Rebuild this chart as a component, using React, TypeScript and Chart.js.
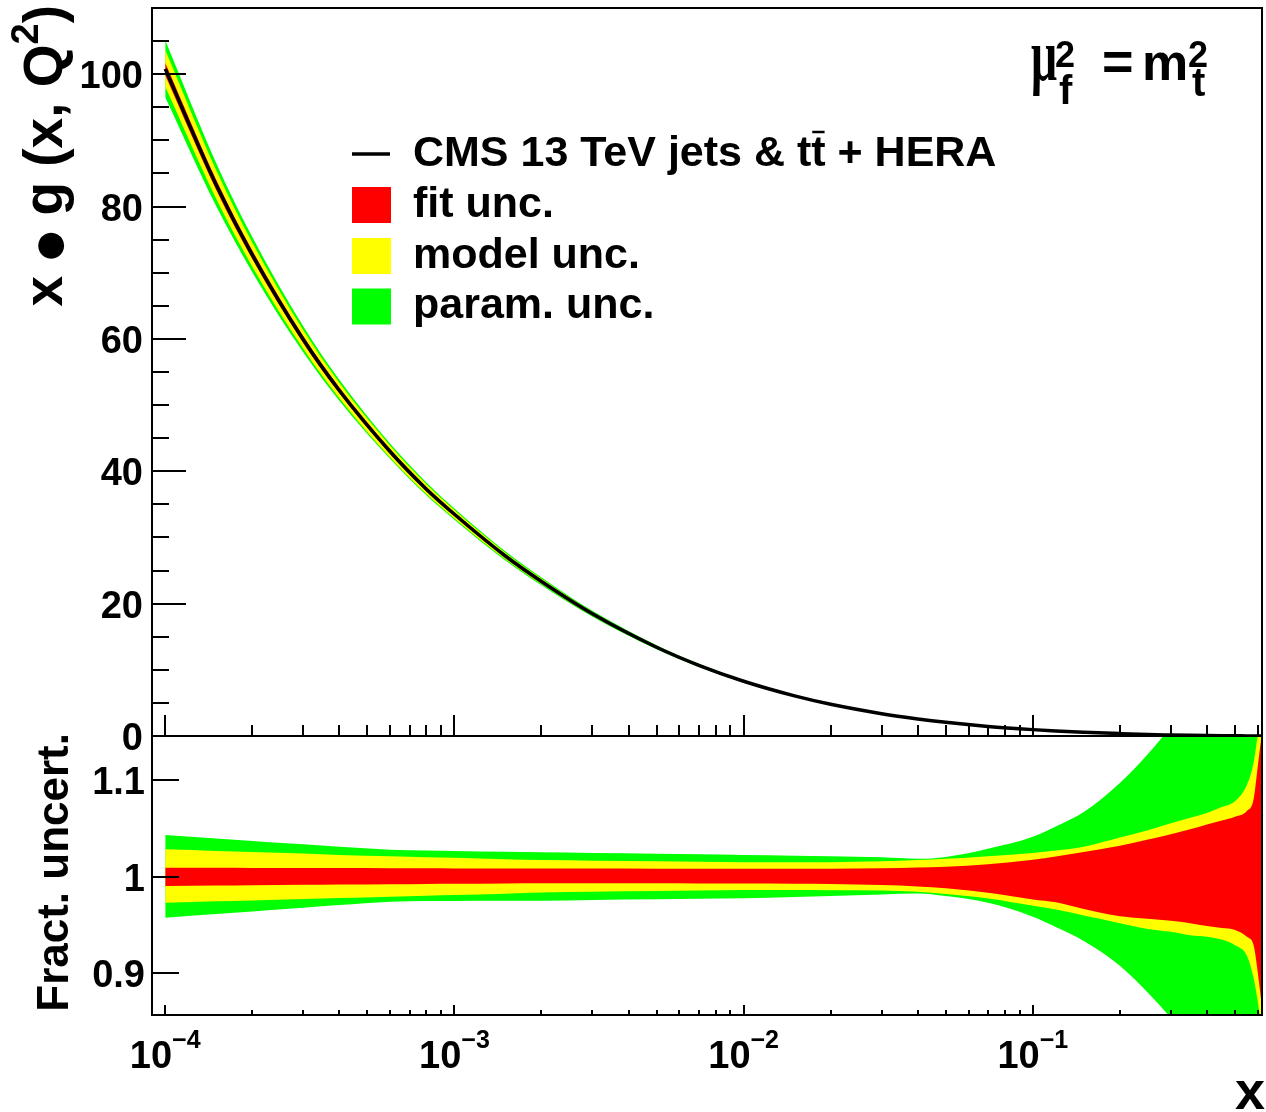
import React, { useEffect, useRef } from 'react';
import { Chart, registerables } from 'chart.js';

Chart.register(...registerables);

// ---------------- data ----------------
const xValues = [1e-4, 1.5e-4, 2e-4, 3e-4, 4e-4, 6e-4, 8e-4, 1e-3, 1.5e-3, 2e-3, 3e-3, 5e-3, 7e-3, 1e-2, 1.5e-2, 2e-2, 3e-2, 4e-2, 5e-2, 7e-2, 0.1, 0.12, 0.15, 0.2, 0.25, 0.3, 0.35, 0.4, 0.45, 0.5, 0.55, 0.58, 0.6, 0.62];
const centralValues = [100.8, 83.3, 72.7, 59.9, 52.2, 42.95, 37.3, 33.5, 27.2, 23.35, 18.47, 13.41, 10.68, 8.27, 6.06, 4.79, 3.37, 2.574, 2.063, 1.449, 0.963, 0.76, 0.57, 0.36, 0.22, 0.15, 0.1, 0.065, 0.04, 0.025, 0.015, 0.01, 0.008, 0.006];

// fractional uncertainty bands (upper / lower edge relative to central)
const fitUp = [1.0093, 1.0092, 1.0091, 1.009, 1.0089, 1.0088, 1.0087, 1.0086, 1.0085, 1.0085, 1.0084, 1.0083, 1.0082, 1.0082, 1.0082, 1.0083, 1.0088, 1.0096, 1.0103, 1.013, 1.0175, 1.021, 1.0255, 1.032, 1.0385, 1.044, 1.049, 1.054, 1.058, 1.062, 1.068, 1.08, 1.115, 1.15];
const fitDown = [0.9904, 0.9908, 0.9912, 0.9916, 0.9919, 0.9922, 0.9925, 0.9927, 0.993, 0.9932, 0.9932, 0.9932, 0.9931, 0.993, 0.9928, 0.9925, 0.9915, 0.99, 0.988, 0.9835, 0.9765, 0.9735, 0.9665, 0.959, 0.9565, 0.9545, 0.952, 0.949, 0.947, 0.945, 0.938, 0.929, 0.9, 0.865];
const modelUp = [1.0283, 1.0266, 1.0255, 1.024, 1.0225, 1.0212, 1.0202, 1.0195, 1.018, 1.0172, 1.0166, 1.016, 1.0155, 1.015, 1.0149, 1.015, 1.016, 1.0172, 1.0185, 1.0212, 1.0245, 1.027, 1.031, 1.0405, 1.048, 1.0552, 1.061, 1.066, 1.072, 1.078, 1.095, 1.118, 1.148, 1.18];
const modelDown = [0.9731, 0.9745, 0.9755, 0.977, 0.978, 0.9793, 0.9803, 0.981, 0.9825, 0.9838, 0.9845, 0.9852, 0.9857, 0.9862, 0.9862, 0.986, 0.9857, 0.9845, 0.982, 0.9775, 0.97, 0.966, 0.96, 0.952, 0.946, 0.943, 0.9395, 0.938, 0.935, 0.929, 0.918, 0.895, 0.87, 0.84];
const paramUp = [1.043, 1.0395, 1.037, 1.0335, 1.031, 1.028, 1.0272, 1.0266, 1.0258, 1.0252, 1.0245, 1.0238, 1.0232, 1.0225, 1.0218, 1.0212, 1.02, 1.0185, 1.0205, 1.029, 1.0413, 1.052, 1.067, 1.097, 1.127, 1.155, 1.18, 1.205, 1.23, 1.255, 1.28, 1.295, 1.305, 1.315];
const paramDown = [0.9576, 0.9614, 0.9641, 0.9679, 0.9707, 0.9742, 0.9748, 0.9749, 0.9751, 0.9752, 0.976, 0.9767, 0.9772, 0.9777, 0.979, 0.98, 0.9816, 0.9826, 0.98, 0.973, 0.9587, 0.948, 0.9336, 0.908, 0.88, 0.854, 0.83, 0.805, 0.78, 0.755, 0.73, 0.715, 0.705, 0.695];

const upperYTicks = [0, 20, 40, 60, 80, 100];
const lowerYTicks = [0.9, 1, 1.1];
const lowerYTickLabels = ['0.9', '1', '1.1'];
const xDecades = [1e-4, 1e-3, 1e-2, 1e-1];
const xDecadeExponents = ['\u22124', '\u22123', '\u22122', '\u22121'];
const legendLabels = ['fit unc.', 'model unc.', 'param. unc.'];

const X_MIN = 9e-5;
const X_MAX = 0.62;
const RED = '#ff0000';
const YELLOW = '#ffff00';
const GREEN = '#00ff00';

// ---------------- text helpers ----------------
const SANS = '"Liberation Sans", Arial, Helvetica, sans-serif';
const SERIF = '"Liberation Serif", "Times New Roman", serif';
const fnt = (size: number, bold = true, fam = SANS) => `${bold ? 'bold ' : ''}${size}px ${fam}`;

type Seg = { t: string; size: number; dy?: number; bold?: boolean; fam?: string };

function segsWidth(ctx: CanvasRenderingContext2D, segs: Seg[]) {
  let w = 0;
  for (const s of segs) {
    ctx.font = fnt(s.size, s.bold !== false, s.fam);
    w += ctx.measureText(s.t).width;
  }
  return w;
}

function drawSegs(ctx: CanvasRenderingContext2D, segs: Seg[], x: number, y: number, align: 'left' | 'center' | 'right') {
  const w = segsWidth(ctx, segs);
  let cx = align === 'left' ? x : align === 'center' ? x - w / 2 : x - w;
  ctx.textAlign = 'left';
  ctx.textBaseline = 'alphabetic';
  const pos: number[] = [];
  for (const s of segs) {
    ctx.font = fnt(s.size, s.bold !== false, s.fam);
    pos.push(cx);
    ctx.fillText(s.t, cx, y + (s.dy || 0));
    cx += ctx.measureText(s.t).width;
  }
  return pos;
}

const pts = (vals: number[]) => xValues.map((x, i) => ({ x, y: vals[i] }));
const scaled = (rel: number[]) => xValues.map((x, i) => ({ x, y: centralValues[i] * rel[i] }));

function band(data: { x: number; y: number }[], color: string | null) {
  return {
    data,
    borderColor: 'rgba(0,0,0,0)',
    borderWidth: 0,
    backgroundColor: color || 'rgba(0,0,0,0)',
    fill: color ? '+1' : false,
    pointRadius: 0,
    cubicInterpolationMode: 'monotone' as const,
  };
}

// ---------------- plugins ----------------
const upperPlugin = {
  id: 'upperDecor',
  afterDraw(chart: any) {
    const { ctx, chartArea: a, scales } = chart;
    const xs = scales.x;
    const ys = scales.y;
    ctx.save();
    ctx.strokeStyle = '#000';
    ctx.fillStyle = '#000';
    ctx.lineWidth = 2;
    ctx.strokeRect(a.left, a.top, a.right - a.left, a.bottom - a.top);

    // y ticks
    ctx.beginPath();
    for (let v = 0; v <= 110; v += 5) {
      const py = Math.round(ys.getPixelForValue(v));
      const len = v % 20 === 0 ? 34 : 17;
      ctx.moveTo(a.left, py);
      ctx.lineTo(a.left + len, py);
    }
    // x ticks at bottom
    for (const d of xDecades) {
      const px = Math.round(xs.getPixelForValue(d));
      ctx.moveTo(px, a.bottom);
      ctx.lineTo(px, a.bottom - 21);
    }
    for (let e = -5; e <= -1; e++) {
      for (let k = 2; k <= 9; k++) {
        const v = k * Math.pow(10, e);
        if (v <= X_MIN * 1.01 || v >= X_MAX) continue;
        const px = Math.round(xs.getPixelForValue(v));
        ctx.moveTo(px, a.bottom);
        ctx.lineTo(px, a.bottom - 11);
      }
    }
    ctx.stroke();

    // y labels
    ctx.font = fnt(38);
    ctx.textAlign = 'right';
    ctx.textBaseline = 'alphabetic';
    for (const v of upperYTicks) {
      const py = ys.getPixelForValue(v);
      ctx.fillText(String(v), 143, py + 14);
    }

    // y title (rotated)
    ctx.save();
    ctx.translate(62, 5);
    ctx.rotate(-Math.PI / 2);
    drawSegs(
      ctx,
      [
        { t: 'x ', size: 55 },
        { t: '\u25CF', size: 34, fam: '"DejaVu Sans", sans-serif', dy: -2 },
        { t: ' g (x, Q', size: 55 },
        { t: '2', size: 38, dy: -24 },
        { t: ')', size: 55 },
      ],
      0,
      0,
      'right'
    );
    ctx.restore();

    // legend
    ctx.lineWidth = 3.5;
    ctx.beginPath();
    ctx.moveTo(352, 154);
    ctx.lineTo(390, 154);
    ctx.stroke();
    const boxColors = [RED, YELLOW, GREEN];
    const boxTops = [187, 238, 288.5];
    boxColors.forEach((c, i) => {
      ctx.fillStyle = c;
      ctx.fillRect(352, boxTops[i], 39, 36);
    });
    ctx.fillStyle = '#000';
    const pos = drawSegs(
      ctx,
      [
        { t: 'CMS 13 TeV jets & t', size: 43 },
        { t: 't', size: 43 },
        { t: ' + HERA', size: 43 },
      ],
      413,
      166,
      'left'
    );
    ctx.font = fnt(43);
    const tw = ctx.measureText('t').width;
    ctx.lineWidth = 2.5;
    ctx.beginPath();
    ctx.moveTo(pos[1] + 1, 132);
    ctx.lineTo(pos[1] + tw - 1, 132);
    ctx.stroke();
    legendLabels.forEach((lbl, i) => {
      ctx.font = fnt(43);
      ctx.textAlign = 'left';
      ctx.fillText(lbl, 413, 217 + i * 50.5);
    });

    // mu_f^2 = m_t^2
    ctx.save();
    ctx.translate(1031, 80);
    ctx.scale(0.62, 1);
    ctx.font = fnt(74, true, SERIF);
    ctx.textAlign = 'left';
    ctx.fillText('\u03BC', 0, 0);
    ctx.restore();
    ctx.textAlign = 'left';
    ctx.font = fnt(36);
    ctx.fillText('2', 1055, 67);
    ctx.font = fnt(40);
    ctx.fillText('f', 1059, 104);
    ctx.font = fnt(54);
    ctx.fillText('=', 1102, 80);
    ctx.font = fnt(52);
    ctx.fillText('m', 1142, 80);
    ctx.font = fnt(36);
    ctx.fillText('2', 1188, 67);
    ctx.font = fnt(40);
    ctx.fillText('t', 1192, 96);

    ctx.restore();
  },
};

const LOWER_TOP = 720;

const lowerPlugin = {
  id: 'lowerDecor',
  afterDraw(chart: any) {
    const { ctx, chartArea: a, scales } = chart;
    const xs = scales.x;
    const ys = scales.y;
    ctx.save();
    ctx.strokeStyle = '#000';
    ctx.fillStyle = '#000';
    ctx.lineWidth = 2;
    ctx.strokeRect(a.left, a.top, a.right - a.left, a.bottom - a.top);

    ctx.beginPath();
    for (const v of lowerYTicks) {
      const py = Math.round(ys.getPixelForValue(v));
      ctx.moveTo(a.left, py);
      ctx.lineTo(a.left + 27, py);
    }
    for (const d of xDecades) {
      const px = Math.round(xs.getPixelForValue(d));
      ctx.moveTo(px, a.bottom);
      ctx.lineTo(px, a.bottom - 10);
    }
    for (let e = -5; e <= -1; e++) {
      for (let k = 2; k <= 9; k++) {
        const v = k * Math.pow(10, e);
        if (v <= X_MIN * 1.01 || v >= X_MAX) continue;
        const px = Math.round(xs.getPixelForValue(v));
        ctx.moveTo(px, a.bottom);
        ctx.lineTo(px, a.bottom - 5);
      }
    }
    ctx.stroke();

    // y labels
    ctx.font = fnt(38);
    ctx.textAlign = 'right';
    ctx.textBaseline = 'alphabetic';
    lowerYTicks.forEach((v, i) => {
      const py = ys.getPixelForValue(v);
      ctx.fillText(lowerYTickLabels[i], 145, py + 14);
    });

    // x labels
    xDecades.forEach((d, i) => {
      const px = xs.getPixelForValue(d);
      drawSegs(
        ctx,
        [
          { t: '10', size: 38 },
          { t: xDecadeExponents[i], size: 25, dy: -20 },
        ],
        px,
        1068 - LOWER_TOP,
        'center'
      );
    });

    // x title
    ctx.font = fnt(54);
    ctx.textAlign = 'right';
    ctx.fillText('x', 1265, 1109 - LOWER_TOP);

    // y title
    ctx.save();
    ctx.translate(68, 733 - LOWER_TOP);
    ctx.rotate(-Math.PI / 2);
    ctx.font = fnt(44);
    ctx.textAlign = 'right';
    ctx.fillText('Fract. uncert.', 0, 0);
    ctx.restore();

    ctx.restore();
  },
};

function baseOptions(padding: any, yMin: number, yMax: number) {
  return {
    animation: false as const,
    responsive: false,
    maintainAspectRatio: false,
    events: [] as any[],
    layout: { padding },
    scales: {
      x: { type: 'logarithmic' as const, min: X_MIN, max: X_MAX, display: false },
      y: { type: 'linear' as const, min: yMin, max: yMax, display: false },
    },
    plugins: { legend: { display: false }, tooltip: { enabled: false }, title: { display: false } },
  };
}

export default function App() {
  const upRef = useRef<HTMLCanvasElement>(null);
  const loRef = useRef<HTMLCanvasElement>(null);

  useEffect(() => {
    const upper = new Chart(upRef.current as HTMLCanvasElement, {
      type: 'line',
      data: {
        datasets: [
          {
            label: 'CMS 13 TeV jets & tt + HERA',
            data: pts(centralValues),
            borderColor: '#000',
            borderWidth: 3.5,
            pointRadius: 0,
            fill: false,
            cubicInterpolationMode: 'monotone',
          },
          band(scaled(fitUp), RED),
          band(scaled(fitDown), null),
          band(scaled(modelUp), YELLOW),
          band(scaled(modelDown), null),
          band(scaled(paramUp), GREEN),
          band(scaled(paramDown), null),
        ] as any,
      },
      options: baseOptions({ left: 152, right: 4, top: 8, bottom: 760 - 736 }, 0, 110) as any,
      plugins: [upperPlugin],
    });

    const lower = new Chart(loRef.current as HTMLCanvasElement, {
      type: 'line',
      data: {
        datasets: [
          band(pts(fitUp), RED),
          band(pts(fitDown), null),
          band(pts(modelUp), YELLOW),
          band(pts(modelDown), null),
          band(pts(paramUp), GREEN),
          band(pts(paramDown), null),
        ] as any,
      },
      options: baseOptions({ left: 152, right: 4, top: 736 - LOWER_TOP, bottom: 1112 - 1015 }, 0.857, 1.1455) as any,
      plugins: [lowerPlugin],
    });

    return () => {
      upper.destroy();
      lower.destroy();
    };
  }, []);

  return (
    <div style={{ position: 'absolute', left: 0, top: 0, width: 1266, height: 1112, background: '#fff' }}>
      <canvas ref={upRef} width={1266} height={760} style={{ position: 'absolute', left: 0, top: 0, width: 1266, height: 760 }} />
      <canvas ref={loRef} width={1266} height={392} style={{ position: 'absolute', left: 0, top: LOWER_TOP, width: 1266, height: 392 }} />
    </div>
  );
}
